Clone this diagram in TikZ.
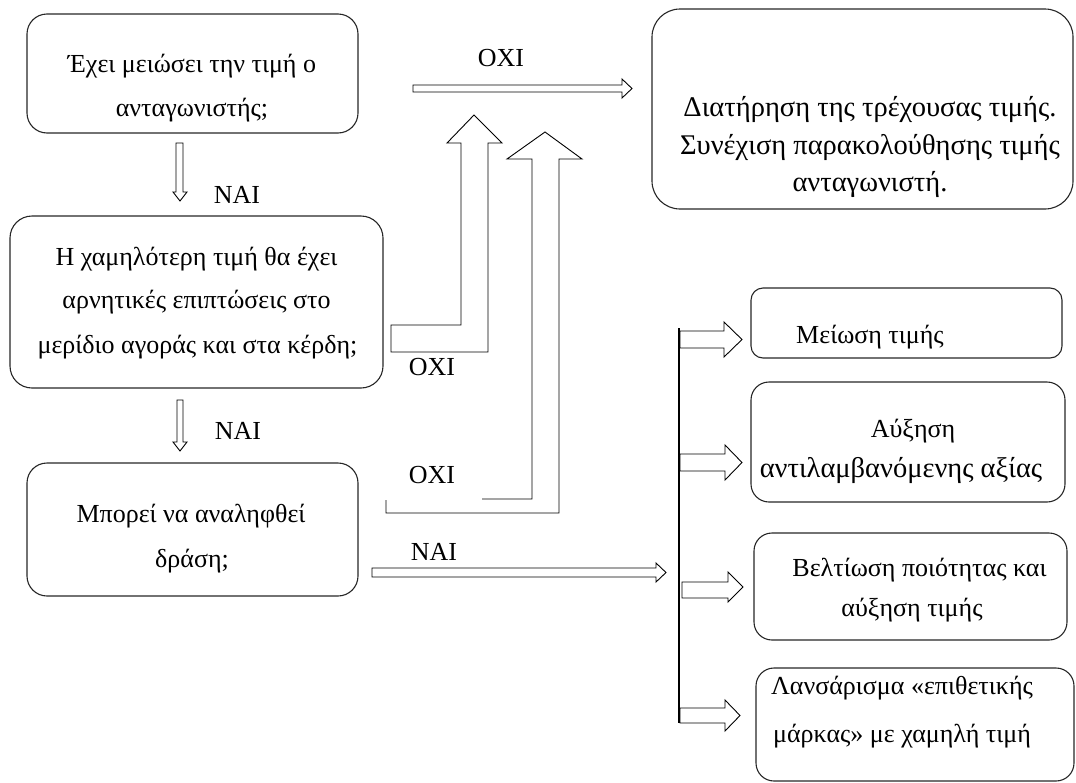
\documentclass[tikz,border=0pt]{standalone}
\usepackage{fontspec}
\setmainfont{Liberation Serif}
\begin{document}
\begin{tikzpicture}[x=1pt,y=-1pt,
  box/.style={draw=black!85, line width=1.1pt, rounded corners=#1, inner sep=0pt},
  box/.default=20pt,
  txt/.style={anchor=base, inner sep=0pt, font=\fontsize{26}{30}\selectfont},
  bigtxt/.style={txt, font=\fontsize{28.5}{32}\selectfont},
  lbl/.style={anchor=base, inner sep=0pt, font=\fontsize{26}{30}\selectfont},
  blockarrow/.style={draw=black, line width=0.9pt, fill=white, line join=miter},
  bus/.style={draw=black, line width=1.8pt}]
\useasboundingbox (0,0) rectangle (1076,782);

% decision boxes (left column)
\node[box=20pt, minimum width=331pt, minimum height=119pt] (q1) at (192.5,73.5) {};
\node[box=22pt, minimum width=373pt, minimum height=172pt] (q2) at (196.5,302) {};
\node[box=20pt, minimum width=331pt, minimum height=133pt] (q3) at (192.5,529.5) {};

% outcome boxes
\node[box=28pt, minimum width=421pt, minimum height=200pt] (keep) at (862.5,109) {};
\node[box=12pt, minimum width=311pt, minimum height=70pt] (r1) at (906.5,323) {};
\node[box=18pt, minimum width=314pt, minimum height=120pt] (r2) at (908,442) {};
\node[box=18pt, minimum width=313pt, minimum height=107pt] (r3) at (910.5,586.5) {};
\node[box=18pt, minimum width=318pt, minimum height=113pt] (r4) at (915,724.5) {};

% box texts
\node[txt] (q1a) at (192,72) {Έχει μειώσει την τιμή ο};
\node[txt] (q1b) at (192,116) {ανταγωνιστής;};
\node[txt] (q2a) at (196.5,265) {Η χαμηλότερη τιμή θα έχει};
\node[txt] (q2b) at (196.5,308) {αρνητικές επιπτώσεις στο};
\node[txt] (q2c) at (197.5,353) {μερίδιο αγοράς και στα κέρδη;};
\node[txt] (q3a) at (191,522) {Μπορεί να αναληφθεί};
\node[txt] (q3b) at (192,567) {δράση;};
\node[bigtxt] (ka) at (870,116) {Διατήρηση της τρέχουσας τιμής.};
\node[bigtxt] (kb) at (870,154) {Συνέχιση παρακολούθησης τιμής};
\node[bigtxt] (kc) at (870,191) {ανταγωνιστή.};
\node[txt] (r1a) at (870,343) {Μείωση τιμής};
\node[txt] (r2a) at (913,437) {Αύξηση};
\node[bigtxt] (r2b) at (901,477) {αντιλαμβανόμενης αξίας};
\node[txt] (r3a) at (919.5,576) {Βελτίωση ποιότητας και};
\node[txt] (r3b) at (912,616) {αύξηση τιμής};
\node[txt] (r4a) at (902,694) {Λανσάρισμα «επιθετικής};
\node[txt] (r4b) at (902,742) {μάρκας» με χαμηλή τιμή};

% answer labels
\node[lbl] (yes1) at (237,203) {NAI};
\node[lbl] (yes2) at (238,439) {NAI};
\node[lbl] (yes3) at (434,560) {NAI};
\node[lbl] (no1) at (501,66) {OXI};
\node[lbl] (no2) at (432,375) {OXI};
\node[lbl] (no3) at (432,483) {OXI};

% downward block arrows
\draw[blockarrow] (176,143) -- (183,143) -- (183,192) -- (187,192) -- (180,201)
  -- (173,192) -- (176,192) -- cycle;
\draw[blockarrow] (177,400) -- (183,400) -- (183,442) -- (187,442) -- (180,451)
  -- (173,442) -- (177,442) -- cycle;

% rightward block arrows
\draw[blockarrow] (413,85) -- (622,85) -- (622,79) -- (632,88.5) -- (622,98)
  -- (622,92) -- (413,92) -- cycle;
\draw[blockarrow] (372,568) -- (656,568) -- (656,563) -- (666,572.5) -- (656,582)
  -- (656,577) -- (372,577) -- cycle;

% bent arrows rising to the top outcome
\draw[blockarrow] (391,325) -- (461,325) -- (461,143) -- (447,143) -- (474,115)
  -- (502,143) -- (488,143) -- (488,352) -- (391,352) -- cycle;
\draw[blockarrow, fill=none] (482,499) -- (532,499) -- (532,159) -- (507,159)
  -- (545,132) -- (582,159) -- (559,159) -- (559,513) -- (386,513) -- (386,500);

% distribution bus and branch arrows
\draw[bus] (679,328) -- (679,723);
\draw[blockarrow] (680,331) -- (724,331) -- (724,322) -- (742,339.5) -- (724,357)
  -- (724,348) -- (680,348) -- cycle;
\draw[blockarrow] (680,454) -- (725,454) -- (725,445) -- (742,462.5) -- (725,480)
  -- (725,471) -- (680,471) -- cycle;
\draw[blockarrow] (682,582) -- (728,582) -- (728,572) -- (743,587) -- (728,602)
  -- (728,598) -- (682,598) -- cycle;
\draw[blockarrow] (680,708) -- (725,708) -- (725,700) -- (740,715.5) -- (725,731)
  -- (725,723) -- (680,723) -- cycle;
\end{tikzpicture}
\end{document}
